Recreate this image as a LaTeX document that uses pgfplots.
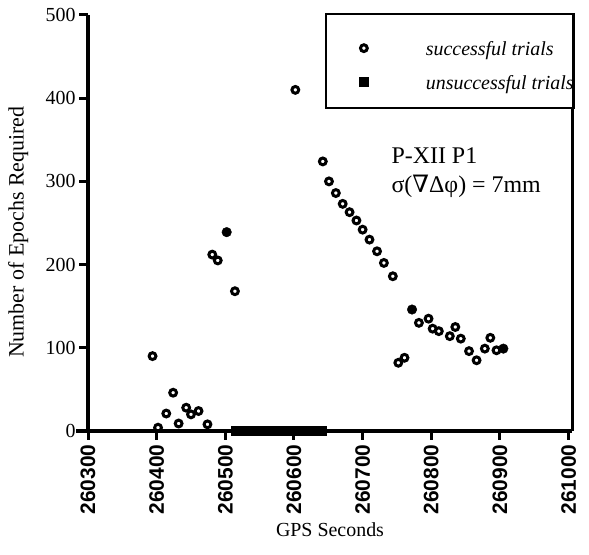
\documentclass[border=0pt]{standalone}
\usepackage{pgfplots}
\pgfplotsset{compat=1.18}
\usepackage{fontspec}
\setmainfont{Liberation Serif}
\setsansfont{Liberation Sans}
\newfontfamily\dvs{DejaVu Serif}

\pgfplotstableread{
x y
260394 90
260402 4
260414 21
260424 46
260432 9
260443 28
260450 20
260461 24
260474 8
260481 212
260489 205
260514 168
260602 410
260642 324
260651 300
260661 286
260671 273
260681 263
260691 253
260700 242
260710 230
260721 216
260731 202
260744 186
260752 82
260761 88
260782 130
260796 135
260802 123
260811 120
260827 114
260835 125
260843 111
260855 96
260866 85
260878 99
260886 112
260895 97
}\successful

\pgfplotstableread{
x y
260502 239
260772 146
260905 99
}\filledsucc

\pgfplotstableread{
x y
260515 0
260520 0
260525 0
260530 0
260535 0
260540 0
260545 0
260550 0
260555 0
260560 0
260565 0
260570 0
260575 0
260580 0
260585 0
260590 0
260595 0
260600 0
260605 0
260610 0
260615 0
260620 0
260625 0
260630 0
260635 0
260640 0
}\unsuccessful

\begin{document}
\begin{tikzpicture}[x=1bp,y=1bp]
\path[use as bounding box] (0,0) rectangle (589,555);
\begin{axis}[
  at={(88bp,124bp)}, anchor=south west,
  scale only axis, width=484bp, height=416bp,
  xmin=260300, xmax=261005, ymin=0, ymax=500,
  axis x line*=bottom, axis y line*=left,
  x axis line style={-, line width=4.5bp},
  y axis line style={-, line width=3.5bp},
  clip=false,
  scaled x ticks=false, scaled y ticks=false,
  tick align=outside,
  major tick length=9bp,
  every tick/.style={black, line width=3bp},
  xtick={260300,260400,260500,260600,260700,260800,260900,261000},
  xticklabels={260300,260400,260500,260600,260700,260800,260900,261000},
  ytick={0,100,200,300,400,500},
  yticklabels={0,100,200,300,400,500},
  xticklabel style={rotate=90, anchor=east, font=\sffamily\bfseries\fontsize{21}{21}\selectfont, xshift=-1bp},
  yticklabel style={font=\fontsize{20}{20}\selectfont},
  xlabel={GPS Seconds},
  ylabel={Number of Epochs Required},
  xlabel style={font=\fontsize{20}{20}\selectfont, at={(rel axis cs:0.5,0)}, anchor=base, yshift=-105bp},
  ylabel style={font=\fontsize{22}{22}\selectfont, at={(rel axis cs:-0.144,0.478)}, anchor=center},
  legend style={
    at={(rel axis cs:1.006,1.005)}, anchor=north east,
    draw=black, line width=2.5bp, fill=white,
    inner xsep=0pt, inner ysep=13bp, row sep=0pt,
    nodes={inner sep=0pt, text height=28bp, text depth=6bp},
    font=\itshape\fontsize{20}{20}\selectfont,
  },
  legend cell align=left,
]
\addplot[only marks, mark=o, black, mark options={line width=3bp, mark size=3.4bp}, mark size=3.4bp,
  legend image code/.code={\path[draw=none] (-38bp,-10bp) -- (62bp,10bp); \draw[black, mark=o, mark size=3.4bp, line width=3bp, mark repeat=1] plot coordinates {(0bp,-4bp)};}]
  table[x=x,y=y] {\successful};
\addlegendentry{successful trials}
\addplot[only marks, mark=square*, mark size=4.5bp, black,
  legend image code/.code={\path[draw=none] (-38bp,-10bp) -- (62bp,10bp); \draw[black, mark=square*, mark size=4.5bp, line width=0.5bp, mark repeat=1] plot coordinates {(0bp,-4bp)};}]
  table[x=x,y=y] {\unsuccessful};
\addlegendentry{unsuccessful trials}
\addplot[only marks, mark=*, mark size=4.8bp, black, forget plot]
  table[x=x,y=y] {\filledsucc};
\draw[line width=3bp] (rel axis cs:1,0) -- (rel axis cs:1,1);
\draw[line width=4.5bp] (rel axis cs:-0.024,0) -- (rel axis cs:0,0);
\node[anchor=base west, font=\fontsize{24}{24}\selectfont] at (axis cs:260737,321) {P-XII P1};
\node[anchor=base west, font=\fontsize{24}{24}\selectfont] at (axis cs:260737,287) {σ({\dvs ∇}Δφ) = 7mm};
\end{axis}
\end{tikzpicture}
\end{document}
